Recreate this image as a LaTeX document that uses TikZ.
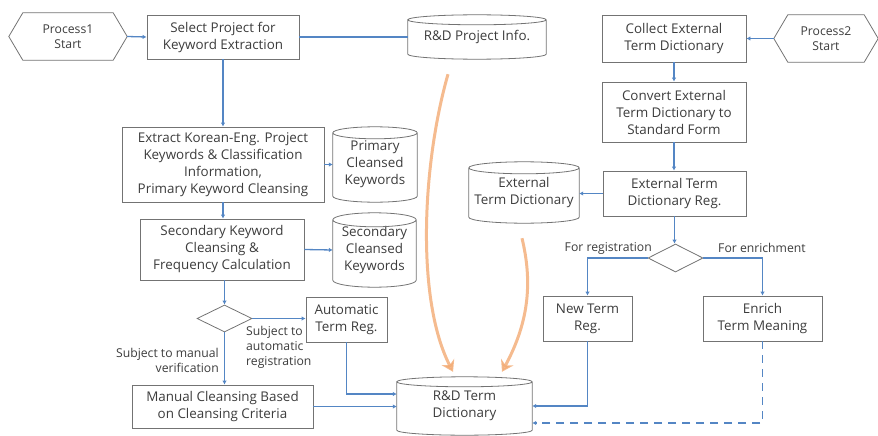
\documentclass[tikz,border=0pt]{standalone}
\usepackage{fontspec}
\setmainfont{Open Sans}
\usetikzlibrary{arrows.meta,shapes.geometric,calc}
\definecolor{connc}{RGB}{84,134,196}
\definecolor{edgec}{RGB}{115,115,115}
\definecolor{txtc}{RGB}{60,60,60}
\definecolor{orgc}{RGB}{242,170,115}
\newcommand\dbdraw[2]{%
  \draw[edgeline] let \p1=(#1.north west), \p2=(#1.south east), \n1={(\x2-\x1)/2} in
    (\x1,\y1) -- (\x1,\y2) arc[start angle=180,end angle=360,x radius=\n1,y radius=#2]
    -- (\x2,\y1) arc[start angle=0,end angle=360,x radius=\n1,y radius=#2];}
\newcommand\hexdraw[2]{%
  \draw[edgeline] ([xshift=#2]#1.north west) -- ([xshift=-#2]#1.north east) -- (#1.east)
    -- ([xshift=-#2]#1.south east) -- ([xshift=#2]#1.south west) -- (#1.west) -- cycle;}
\begin{document}
\begin{tikzpicture}[x=1pt,y=-1pt,
  edgeline/.style={draw=edgec,line width=0.8pt},
  box/.style={draw=edgec,line width=0.8pt,inner sep=1pt,align=center,text=txtc,
    font=\fontsize{13.4}{17}\selectfont},
  dbnode/.style={inner sep=0pt,align=center,text=txtc,font=\fontsize{13.4}{17}\selectfont},
  hexnode/.style={inner sep=0pt,align=center,text=txtc,font=\fontsize{12.2}{15}\selectfont},
  dia/.style={diamond,draw=edgec,line width=0.8pt,inner sep=0pt},
  conn/.style={draw=connc,line width=1.3pt,-{Latex[length=4pt,width=4.5pt]}},
  plainconn/.style={draw=connc,line width=1.3pt},
  dconn/.style={conn,dash pattern=on 8pt off 6pt},
  lbl/.style={text=txtc,font=\fontsize{12.2}{15}\selectfont,inner sep=0pt},
  orgarrow/.style={draw=orgc,line width=3pt,opacity=0.8,-{Stealth[length=11pt,width=14pt]}},
]
\useasboundingbox (0,0) rectangle (878,436);

% left process
\node[hexnode,minimum width=118pt,minimum height=47pt] (p1) at (68,36.5) {Process1\\Start};
\hexdraw{p1}{14pt}
\node[box,minimum width=152pt,minimum height=44pt] (sel) at (223,37) {Select Project for\\Keyword Extraction};
\node[dbnode,minimum width=138pt,minimum height=34pt] (pinfo) at (477,37) {R\&D Project Info.};
\dbdraw{pinfo}{5pt}
\node[box,minimum width=202pt,minimum height=75pt] (ext) at (223,164.5) {Extract Korean-Eng. Project\\Keywords \& Classification\\Information,\\Primary Keyword Cleansing};
\node[dbnode,minimum width=84pt,minimum height=63pt] (pck) at (375,164.5) {Primary\\Cleansed\\Keywords};
\dbdraw{pck}{6pt}
\node[box,minimum width=164pt,minimum height=61pt] (sec) at (222,249.5) {Secondary Keyword\\Cleansing \&\\Frequency Calculation};
\node[dbnode,minimum width=83pt,minimum height=60pt] (sck) at (374.5,250) {Secondary\\Cleansed\\Keywords};
\dbdraw{sck}{7pt}
\node[dia,minimum width=55pt,minimum height=27pt] (d1) at (224.5,318.5) {};
\node[box,minimum width=81pt,minimum height=45pt] (auto) at (346.5,319.5) {Automatic\\Term Reg.};
\node[box,minimum width=181pt,minimum height=43pt] (man) at (222.5,406.5) {Manual Cleansing Based\\on Cleansing Criteria};
\node[dbnode,minimum width=135pt,minimum height=48pt] (rdt) at (464.5,406) {R\&D Term\\Dictionary};
\dbdraw{rdt}{5pt}

% right process
\node[hexnode,minimum width=104pt,minimum height=47pt] (p2) at (826,38.5) {Process2\\Start};
\hexdraw{p2}{14pt}
\node[box,minimum width=144pt,minimum height=47pt] (coll) at (674,38.5) {Collect External\\Term Dictionary};
\node[box,minimum width=144pt,minimum height=60pt] (conv) at (674,112) {Convert External\\Term Dictionary to\\Standard Form};
\node[box,minimum width=143pt,minimum height=45pt] (ereg) at (674.5,193.5) {External Term\\Dictionary Reg.};
\node[dbnode,minimum width=110pt,minimum height=49pt] (edict) at (524,192.5) {External\\Term Dictionary};
\dbdraw{edict}{6pt}
\node[dia,minimum width=55pt,minimum height=28pt] (d2) at (675.5,258) {};
\node[box,minimum width=89pt,minimum height=45pt] (newt) at (587.5,318.5) {New Term\\Reg.};
\node[box,minimum width=119pt,minimum height=45pt] (enr) at (762.5,318.5) {Enrich\\Term Meaning};

% labels
\node[lbl,anchor=east] (lreg) at (652,248) {For registration};
\node[lbl,anchor=west] (lenr) at (718,248) {For enrichment};
\node[lbl,anchor=north west,align=left] (lauto) at (246,326) {Subject to\\automatic\\registration};
\node[lbl,anchor=east,align=right] (lman) at (219,360) {Subject to manual\\verification};

% connectors left
\draw[conn] (p1.east) -- (sel.west);
\draw[plainconn] (sel.east) -- (pinfo.west);
\draw[conn] (sel.south) -- (ext.north);
\draw[conn] (ext.east) -- (pck.west);
\draw[conn] (ext.south) -- (sec.north -| ext.south);
\draw[conn] (sec.east) -- (sck.west);
\draw[conn] (sec.south -| d1.north) -- (d1.north);
\draw[conn] (d1.east) -- (auto.west |- d1.east);
\draw[conn] (d1.south) -- (man.north -| d1.south);
\draw[conn] (auto.south) |- ([yshift=12pt]rdt.west);
\draw[conn] (man.east) -- (rdt.west |- man.east);

% connectors right
\draw[conn] (p2.west) -- (coll.east);
\draw[conn] (coll.south) -- (conv.north);
\draw[conn] (conv.south) -- (ereg.north -| conv.south);
\draw[conn] (ereg.west) -- (edict.east |- ereg.west);
\draw[conn] (ereg.south) -- (d2.north -| ereg.south);
\draw[conn] (d2.west) -| (newt.north);
\draw[conn] (d2.east) -| (enr.north);
\draw[conn] (newt.south) |- (rdt.east);
\draw[dconn] (enr.south) |- ([yshift=-17pt]rdt.east);

% orange arrows
\coordinate (o1s) at ($(pinfo.south)+(-29,20)$);
\coordinate (o1e) at ($(rdt.north)+(-11.5,-10)$);
\coordinate (o2s) at ($(edict.south)+(-2,21)$);
\coordinate (o2e) at ($(rdt.north)+(37.5,-10)$);
\draw[orgarrow] (o1s) .. controls (422,165) and (416,300) .. (o1e);
\draw[orgarrow] (o2s) .. controls (532,280) and (530,320) .. (o2e);
\end{tikzpicture}
\end{document}
